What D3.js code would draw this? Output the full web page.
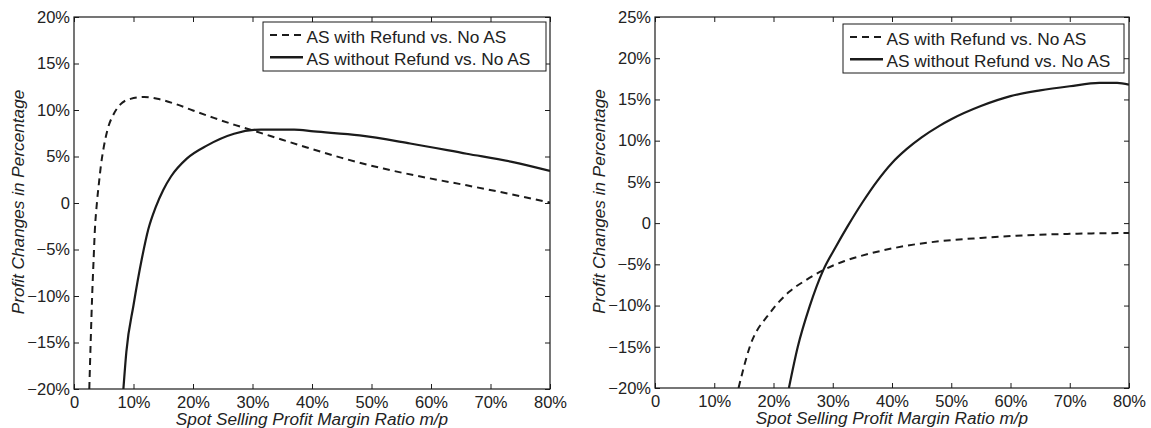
<!DOCTYPE html>
<html>
<head>
<meta charset="utf-8">
<script src="https://cdn.jsdelivr.net/npm/d3@7"></script>
<style>
  html, body { margin: 0; padding: 0; background: #fff; }
  svg { display: block; }
  text { font-family: "Liberation Sans", Arial, Helvetica, sans-serif; fill: #222; }
</style>
</head>
<body>
<svg id="chart" width="1151" height="428"></svg>
<script>
// Spot selling profit margin ratio m/p (in %), with profit changes (in %)

// Left panel
const leftRefundX   = [2.57, 2.8, 3.05, 3.3, 3.5, 3.85, 4.2, 4.5, 5.0, 5.6, 6.7, 7.8, 9.5, 11.8, 14, 16.8, 20, 23.5, 27, 30.3, 35, 39, 45, 52, 59, 66, 73, 80];
const leftRefundY   = [-20, -15, -10, -6, -3, 0, 2.2, 3.9, 6.0, 7.8, 9.6, 10.6, 11.2, 11.4, 11.2, 10.7, 9.95, 9.15, 8.4, 7.75, 6.8, 6.0, 4.85, 3.7, 2.75, 1.9, 1.0, 0.05];
const leftNoRefundX = [8.3, 8.8, 10, 11.4, 12.5, 13.7, 15, 16.3, 19, 22.4, 26.9, 31.4, 37, 40.3, 48, 56.5, 66, 73.8, 80];
const leftNoRefundY = [-20, -16, -11, -6, -2.8, -0.5, 1.4, 2.85, 4.8, 6.2, 7.45, 7.9, 7.9, 7.7, 7.27, 6.4, 5.3, 4.4, 3.45];

// Right panel
const rightRefundX   = [14.1, 16, 19.4, 22.7, 25.5, 28.4, 32, 36.5, 42, 48, 55, 62, 70, 80];
const rightRefundY   = [-20, -15, -10.9, -8.3, -6.9, -5.7, -4.6, -3.65, -2.8, -2.2, -1.8, -1.5, -1.3, -1.2];
const rightNoRefundX = [22.6, 24.1, 26.1, 28.4, 30.5, 32.5, 35, 37.5, 40, 42.5, 45, 48, 50, 55, 60, 65, 70, 75, 78, 80];
const rightNoRefundY = [-20, -15, -10.1, -5.7, -2.9, -0.4, 2.5, 5.1, 7.3, 9.0, 10.4, 11.8, 12.6, 14.2, 15.4, 16.1, 16.6, 17.0, 17.0, 16.8];

// Axis ticks and labels
const xTicks       = [0, 10, 20, 30, 40, 50, 60, 70, 80];
const xTickLabels  = ["0", "10%", "20%", "30%", "40%", "50%", "60%", "70%", "80%"];
const leftYTicks   = [-20, -15, -10, -5, 0, 5, 10, 15, 20];
const leftYLabels  = ["\u221220%", "\u221215%", "\u221210%", "\u22125%", "0", "5%", "10%", "15%", "20%"];
const rightYTicks  = [-20, -15, -10, -5, 0, 5, 10, 15, 20, 25];
const rightYLabels = ["\u221220%", "\u221215%", "\u221210%", "\u22125%", "0", "5%", "10%", "15%", "20%", "25%"];

const legendLabels = ["AS with Refund vs. No AS", "AS without Refund vs. No AS"];
const xTitle = "Spot Selling Profit Margin Ratio m/p";
const yTitle = "Profit Changes in Percentage";

const svg = d3.select("#chart");
const ink = "#1b1b1b";
const FONT = '"Liberation Sans", Arial, Helvetica, sans-serif';

function zip(xs, ys) { return xs.map((x, i) => [x, ys[i]]); }

function panel(cfg) {
  const g = svg.append("g");
  const x = d3.scaleLinear().domain([0, 80]).range([cfg.x0, cfg.x1]);
  const y = d3.scaleLinear().domain(cfg.yDomain).range([cfg.y1, cfg.y0]);

  const clipId = "clip" + cfg.id;
  svg.append("clipPath").attr("id", clipId)
    .append("rect").attr("x", cfg.x0).attr("y", cfg.y0)
    .attr("width", cfg.x1 - cfg.x0).attr("height", cfg.y1 - cfg.y0);

  const line = d3.line().x(d => x(d[0])).y(d => y(d[1])).curve(d3.curveMonotoneX);

  const lines = g.append("g").attr("clip-path", `url(#${clipId})`);
  lines.append("path").datum(zip(cfg.refX, cfg.refY))
    .attr("d", line).attr("fill", "none").attr("stroke", ink)
    .attr("stroke-width", 2).attr("stroke-dasharray", "7,5");
  lines.append("path").datum(zip(cfg.noX, cfg.noY))
    .attr("d", line).attr("fill", "none").attr("stroke", ink)
    .attr("stroke-width", 2.2);

  // Axes with inward ticks on all four sides
  const fmtX = d => xTickLabels[xTicks.indexOf(d)];
  const fmtY = d => cfg.yLabels[cfg.yTicks.indexOf(d)];

  const bottom = g.append("g").attr("transform", `translate(0,${cfg.y1})`)
    .call(d3.axisBottom(x).tickValues(xTicks).tickFormat(fmtX).tickSizeInner(-5).tickSizeOuter(0).tickPadding(7));
  const top = g.append("g").attr("transform", `translate(0,${cfg.y0})`)
    .call(d3.axisTop(x).tickValues(xTicks).tickFormat("").tickSizeInner(-5).tickSizeOuter(0));
  const left = g.append("g").attr("transform", `translate(${cfg.x0},0)`)
    .call(d3.axisLeft(y).tickValues(cfg.yTicks).tickFormat(fmtY).tickSizeInner(-5).tickSizeOuter(0).tickPadding(4));
  const right = g.append("g").attr("transform", `translate(${cfg.x1},0)`)
    .call(d3.axisRight(y).tickValues(cfg.yTicks).tickFormat("").tickSizeInner(-5).tickSizeOuter(0));

  [bottom, top, left, right].forEach(a => {
    a.select(".domain").remove();
    a.selectAll(".tick line").attr("stroke", ink).attr("stroke-width", 1);
    a.selectAll("text").attr("font-size", 16.5).attr("fill", "#222")
      .style("font-family", FONT);
  });

  g.append("rect").attr("x", cfg.x0).attr("y", cfg.y0)
    .attr("width", cfg.x1 - cfg.x0).attr("height", cfg.y1 - cfg.y0)
    .attr("fill", "none").attr("stroke", ink).attr("stroke-width", 1.2);

  // Axis titles
  g.append("text")
    .attr("x", (cfg.x0 + cfg.x1) / 2).attr("y", cfg.y1 + 35.5)
    .attr("text-anchor", "middle").attr("font-size", 17.2).attr("font-style", "italic")
    .text(xTitle);
  g.append("text")
    .attr("transform", `translate(${cfg.yTitleX},${(cfg.y0 + cfg.y1) / 2 - 1}) rotate(-90)`)
    .attr("text-anchor", "middle").attr("font-size", 17.2).attr("font-style", "italic")
    .text(yTitle);

  // Legend
  const lg = g.append("g");
  lg.append("rect").attr("x", cfg.lx0).attr("y", cfg.ly0)
    .attr("width", cfg.lx1 - cfg.lx0).attr("height", cfg.ly1 - cfg.ly0)
    .attr("fill", "#fff").attr("stroke", ink).attr("stroke-width", 1);
  const rows = [cfg.ly0 + 13, cfg.ly0 + 35.3];
  legendLabels.forEach((lab, i) => {
    lg.append("line")
      .attr("x1", cfg.lx0 + 7).attr("x2", cfg.lx0 + 40)
      .attr("y1", rows[i]).attr("y2", rows[i])
      .attr("stroke", ink).attr("stroke-width", i === 0 ? 2 : 2.4)
      .attr("stroke-dasharray", i === 0 ? "7,5" : null);
    lg.append("text")
      .attr("x", cfg.lx0 + 43.5).attr("y", rows[i] + 7.6)
      .attr("font-size", 17.3).text(lab);
  });
}

panel({
  id: "L", x0: 74, x1: 550, y0: 17, y1: 389, yDomain: [-20, 20],
  yTicks: leftYTicks, yLabels: leftYLabels, yTitleX: 24,
  refX: leftRefundX, refY: leftRefundY, noX: leftNoRefundX, noY: leftNoRefundY,
  lx0: 263, lx1: 546, ly0: 22, ly1: 71
});

panel({
  id: "R", x0: 655, x1: 1129, y0: 17, y1: 388, yDomain: [-20, 25],
  yTicks: rightYTicks, yLabels: rightYLabels, yTitleX: 605,
  refX: rightRefundX, refY: rightRefundY, noX: rightNoRefundX, noY: rightNoRefundY,
  lx0: 843, lx1: 1124, ly0: 24, ly1: 73
});
</script>
</body>
</html>
